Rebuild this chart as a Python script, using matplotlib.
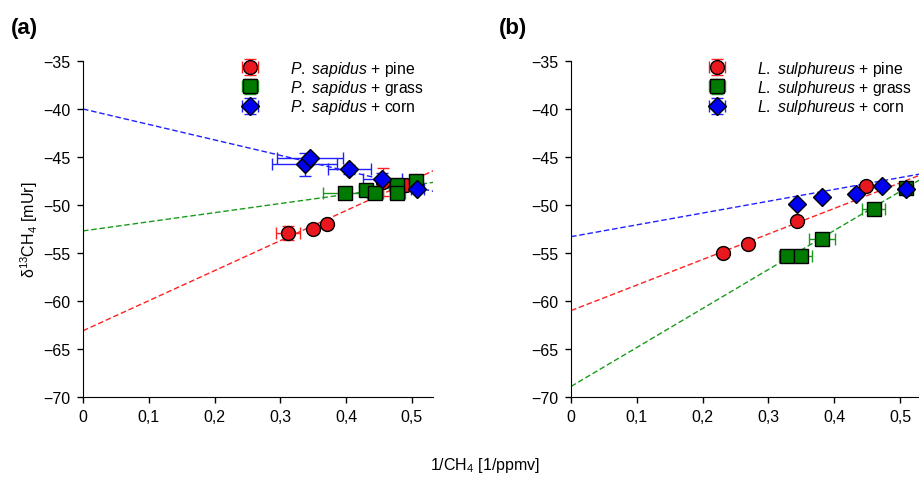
import numpy as np
import matplotlib
matplotlib.use('Agg')
import matplotlib.pyplot as plt
from matplotlib.ticker import FuncFormatter

plt.rcParams['font.family'] = ['Liberation Sans', 'DejaVu Sans']
plt.rcParams['mathtext.fontset'] = 'custom'
plt.rcParams['mathtext.rm'] = 'Liberation Sans'
plt.rcParams['mathtext.it'] = 'Liberation Sans:italic'

# ---- panel (a): P. sapidus ----
a_pine_x = [0.312, 0.349, 0.371, 0.456, 0.491, 0.506]
a_pine_y = [-52.9, -52.45, -51.96, -47.6, -47.9, -47.5]
a_pine_xerr = [0.018, 0.004, 0.004, 0.006, 0.004, 0.004]
a_pine_yerr = [0.7, 0.3, 0.3, 1.5, 0.3, 0.3]

a_grass_x = [0.399, 0.430, 0.444, 0.477, 0.478, 0.506]
a_grass_y = [-48.7, -48.45, -48.8, -47.9, -48.8, -47.5]
a_grass_xerr = [0.034, 0.010, 0.012, 0.012, 0.012, 0.006]
a_grass_yerr = [0.3, 0.3, 0.3, 0.3, 0.3, 0.3]

a_corn_x = [0.337, 0.345, 0.405, 0.455, 0.508]
a_corn_y = [-45.75, -45.15, -46.3, -47.25, -48.3]
a_corn_xerr = [0.049, 0.050, 0.033, 0.030, 0.010]
a_corn_yerr = [1.2, 0.4, 0.5, 0.6, 0.3]

# fitted lines (intercept, slope)
a_fit = {'pine': (-63.1, 31.3), 'grass': (-52.7, 9.5), 'corn': (-40.0, -16.1)}

# ---- panel (b): L. sulphureus ----
b_pine_x = [0.231, 0.269, 0.343, 0.449, 0.509]
b_pine_y = [-55.0, -54.1, -51.7, -48.0, -48.3]
b_pine_xerr = [0.003, 0.003, 0.003, 0.003, 0.003]
b_pine_yerr = [0.2, 0.2, 0.2, 0.2, 0.2]

b_grass_x = [0.328, 0.350, 0.382, 0.460, 0.509]
b_grass_y = [-55.3, -55.3, -53.5, -50.4, -48.2]
b_grass_xerr = [0.012, 0.017, 0.020, 0.018, 0.006]
b_grass_yerr = [0.2, 0.2, 0.2, 0.2, 0.2]

b_corn_x = [0.343, 0.382, 0.433, 0.472, 0.509]
b_corn_y = [-49.85, -49.2, -48.85, -48.05, -48.3]
b_corn_xerr = [0.003, 0.003, 0.003, 0.003, 0.003]
b_corn_yerr = [0.2, 0.2, 0.2, 0.2, 0.2]

b_fit = {'pine': (-61.0, 26.6), 'grass': (-68.9, 40.6), 'corn': (-53.3, 12.3)}

substrates = ['pine', 'grass', 'corn']
face = {'pine': '#e8181e', 'grass': '#007a00', 'corn': '#0000f0'}
line_col = {'pine': '#ff2020', 'grass': '#1a9a1a', 'corn': '#2020ff'}
marker = {'pine': 'o', 'grass': 's', 'corn': 'D'}
msize = {'pine': 10, 'grass': 9.5, 'corn': 9.5}

panels = [
    ('(a)', ('P.', 'sapidus'), a_fit, {
        'pine': (a_pine_x, a_pine_y, a_pine_xerr, a_pine_yerr),
        'grass': (a_grass_x, a_grass_y, a_grass_xerr, a_grass_yerr),
        'corn': (a_corn_x, a_corn_y, a_corn_xerr, a_corn_yerr)}),
    ('(b)', ('L.', 'sulphureus'), b_fit, {
        'pine': (b_pine_x, b_pine_y, b_pine_xerr, b_pine_yerr),
        'grass': (b_grass_x, b_grass_y, b_grass_xerr, b_grass_yerr),
        'corn': (b_corn_x, b_corn_y, b_corn_xerr, b_corn_yerr)}),
]

fig = plt.figure(figsize=(9.2, 4.85), dpi=100)
lefts = [0.0902, 0.6207]
fmt = FuncFormatter(lambda v, p: ('%g' % round(v, 2)).replace('.', ',').replace('-', '\u2212'))

for (tag, species, fit, series), left in zip(panels, lefts):
    ax = fig.add_axes([left, 0.1794, 0.3804, 0.6928])
    xline = np.array([0.0, 0.56])
    for s in substrates:
        b0, b1 = fit[s]
        ax.plot(xline, b0 + b1 * xline, color=line_col[s], lw=1.0,
                ls=(0, (4, 2)), zorder=1)
    handles = []
    for s in substrates:
        x, y, xe, ye = series[s]
        h = ax.errorbar(x, y, xerr=xe, yerr=ye, fmt=marker[s], ms=msize[s],
                        mfc=face[s], mec='black', mew=1.0,
                        ecolor=line_col[s], elinewidth=1.0, capsize=4,
                        capthick=1.0, zorder=3,
                        label=r'$\it{%s}$ $\it{%s}$ + %s' % (species[0], species[1], s))
        handles.append(h)
    ax.set_xlim(0, 0.532)
    ax.set_ylim(-70, -35)
    ax.set_xticks([0, 0.1, 0.2, 0.3, 0.4, 0.5])
    ax.set_yticks(range(-70, -34, 5))
    ax.xaxis.set_major_formatter(fmt)
    ax.yaxis.set_major_formatter(fmt)
    ax.tick_params(labelsize=11.5, length=4, width=1, pad=5)
    ax.spines['top'].set_visible(False)
    ax.spines['right'].set_visible(False)
    ax.legend(handles=handles, loc='upper right', bbox_to_anchor=(1.0, 1.035),
              fontsize=11.3, frameon=False, handletextpad=1.5,
              labelspacing=0.02, borderaxespad=0.2)
    ax.text(-0.205, 1.1, tag, transform=ax.transAxes, fontsize=16,
            fontweight='bold', ha='left', va='center')
    if tag == '(a)':
        ax.set_ylabel('\u03b4$^{13}$CH$_4$ [mUr]', fontsize=11.5, labelpad=2)

fig.text(0.527, 0.04, r'1/CH$_4$ [1/ppmv]', ha='center', va='center', fontsize=11.5)

fig.savefig('out.png', dpi=100)
